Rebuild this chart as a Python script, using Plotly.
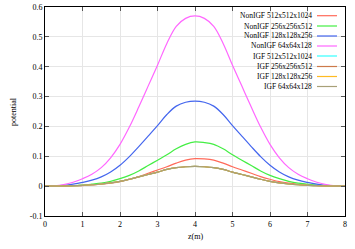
import plotly.graph_objects as go

z = [0.0, 0.25, 0.5, 0.75, 1.0, 1.25, 1.5, 1.75, 2.0, 2.25, 2.5, 2.75, 3.0, 3.25, 3.5, 3.75,
     4.0, 4.25, 4.5, 4.75, 5.0, 5.25, 5.5, 5.75, 6.0, 6.25, 6.5, 6.75, 7.0, 7.25, 7.5, 7.75, 8.0]

nonigf_512 = [0, 0, 0, 0.001, 0.002, 0.004, 0.0064, 0.010, 0.015, 0.023, 0.032, 0.043, 0.054, 0.065, 0.077, 0.087,
              0.092, 0.091, 0.087, 0.077, 0.065, 0.054, 0.043, 0.032, 0.023, 0.015, 0.010, 0.0064, 0.004, 0.002, 0.001, 0, 0]
nonigf_256 = [0, 0, 0, 0.0013, 0.0034, 0.0065, 0.010, 0.016, 0.025, 0.036, 0.051, 0.069, 0.087, 0.105, 0.125, 0.140,
              0.148, 0.146, 0.140, 0.125, 0.105, 0.087, 0.069, 0.051, 0.036, 0.025, 0.016, 0.010, 0.0065, 0.0034, 0.0013, 0, 0]
nonigf_128 = [0, 0.0005, 0.0025, 0.0065, 0.0125, 0.020, 0.031, 0.0475, 0.070, 0.099, 0.1325, 0.1675, 0.2025, 0.240, 0.268, 0.281,
              0.285, 0.281, 0.268, 0.240, 0.2025, 0.1675, 0.1325, 0.099, 0.070, 0.0475, 0.031, 0.020, 0.0125, 0.0065, 0.0025, 0.0005, 0]
nonigf_64 = [0, 0.001, 0.005, 0.013, 0.025, 0.040, 0.062, 0.095, 0.140, 0.198, 0.265, 0.335, 0.405, 0.478, 0.535, 0.562,
             0.570, 0.562, 0.535, 0.478, 0.405, 0.335, 0.265, 0.198, 0.140, 0.095, 0.062, 0.040, 0.025, 0.013, 0.005, 0.001, 0]
igf_values = [0, 0, 0.0006, 0.0015, 0.0029, 0.0046, 0.0072, 0.011, 0.016, 0.023, 0.031, 0.039, 0.047, 0.056, 0.062, 0.065,
              0.066, 0.065, 0.062, 0.056, 0.047, 0.039, 0.031, 0.023, 0.016, 0.011, 0.0072, 0.0046, 0.0029, 0.0015, 0.0006, 0, 0]

names = ["NonIGF 512x512x1024", "NonIGF 256x256x512", "NonIGF 128x128x256", "NonIGF 64x64x128",
         "IGF 512x512x1024", "IGF 256x256x512", "IGF 128x128x256", "IGF 64x64x128"]
series = [nonigf_512, nonigf_256, nonigf_128, nonigf_64, igf_values, igf_values, igf_values, igf_values]
colors = ["#ff6a5a", "#44ee44", "#4466ee", "#ff66ff", "#33ffff", "#cc7a4a", "#ffbb22", "#a8a078"]

x_ticks = [0, 1, 2, 3, 4, 5, 6, 7, 8]
y_ticks = [-0.1, 0, 0.1, 0.2, 0.3, 0.4, 0.5, 0.6]
y_tick_text = ["-0.1", "0", "0.1", "0.2", "0.3", "0.4", "0.5", "0.6"]

FONT = "Liberation Serif"

fig = go.Figure()
for name, vals, col in zip(names, series, colors):
    fig.add_trace(go.Scatter(x=z, y=vals, mode="lines", name=name,
                             line=dict(color=col, width=1.2, shape="spline", smoothing=1.0),
                             showlegend=False, hoverinfo="skip"))

ml, mr, mt, mb = 45, 10, 7, 33
W, H = 355, 249
pw, ph = W - ml - mr, H - mt - mb
row_y = [15.7, 26.0, 36.0, 46.0, 56.0, 66.5, 76.5, 86.5]
for name, col, ry in zip(names, colors, row_y):
    yp = 1 - (ry - mt) / ph
    x_text = (314 - ml) / pw
    x0 = (317 - ml) / pw
    x1 = (337 - ml) / pw
    fig.add_annotation(x=x_text, y=yp, xref="paper", yref="paper", text=name, showarrow=False,
                       xanchor="right", yanchor="middle", font=dict(family=FONT, size=7.5, color="black"))
    fig.add_shape(type="line", xref="paper", yref="paper", x0=x0, x1=x1, y0=yp, y1=yp,
                  line=dict(color=col, width=1.2))

# axis titles
fig.add_annotation(x=(195 - ml) / pw, y=-(236 - mt - ph) / ph, xref="paper", yref="paper",
                   text="z(m)", showarrow=False, xanchor="center", yanchor="middle",
                   font=dict(family=FONT, size=8, color="black"))
fig.add_annotation(x=-(ml - 14) / pw, y=(1 - (112 - mt) / ph), xref="paper", yref="paper",
                   text="potential", showarrow=False, textangle=-90, xanchor="center", yanchor="middle",
                   font=dict(family=FONT, size=8, color="black"))

axis_common = dict(showline=True, linecolor="black", linewidth=1, mirror="ticks",
                   ticks="inside", ticklen=4, tickcolor="#555555", showgrid=True,
                   gridcolor="#e6e6e6", gridwidth=1, zeroline=False, automargin=False,
                   tickfont=dict(family=FONT, size=8, color="black"))

fig.update_layout(
    width=W, height=H,
    margin=dict(l=ml, r=mr, t=mt, b=mb),
    paper_bgcolor="white", plot_bgcolor="white",
    xaxis=dict(range=[0, 8.0001], tickvals=x_ticks, ticktext=[str(v) for v in x_ticks], **axis_common),
    yaxis=dict(range=[-0.1, 0.6], tickvals=y_ticks, ticktext=y_tick_text, **axis_common),
    showlegend=False,
    hovermode=False,
)

fig.write_html("out.html", config={"displayModeBar": False},
               post_script="document.body.style.margin='0';document.body.style.overflow='hidden';")
